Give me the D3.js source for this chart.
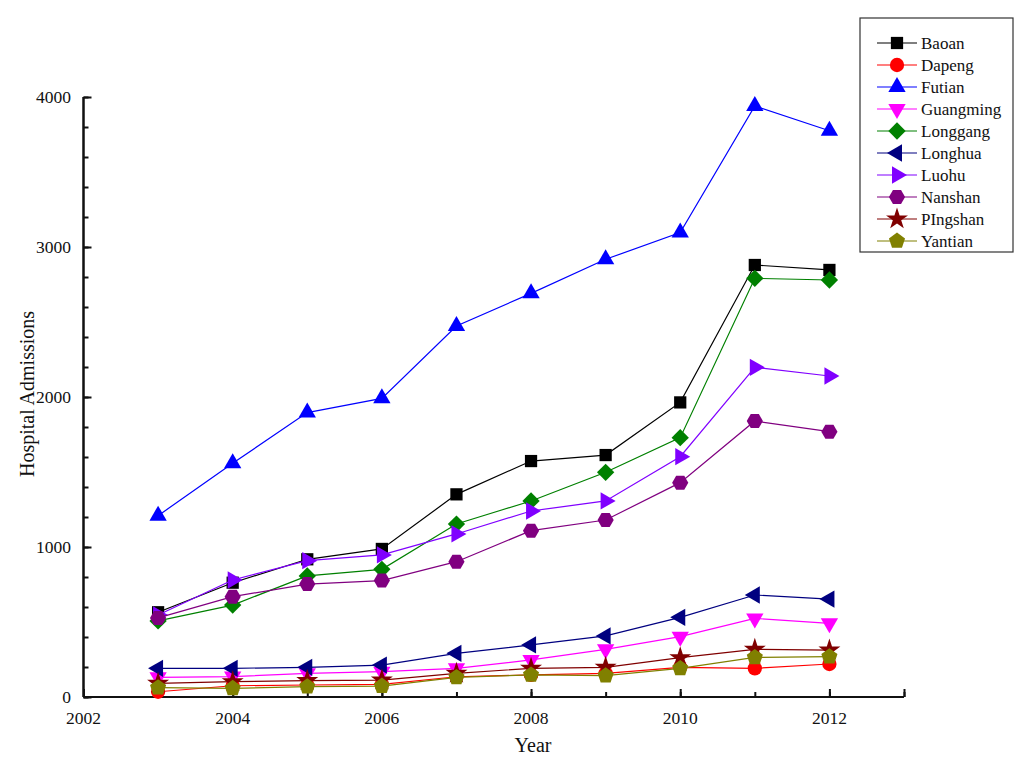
<!DOCTYPE html>
<html>
<head>
<meta charset="utf-8">
<script src="https://cdn.jsdelivr.net/npm/d3@7"></script>
<style>
  body { margin: 0; background: #fff; }
  text { font-family: "Liberation Serif", "DejaVu Serif", serif; fill: #111; }
  .axis path, .axis line { stroke: #111; }
</style>
</head>
<body>
<div id="chart"></div>
<script>
// data
var years = [2003, 2004, 2005, 2006, 2007, 2008, 2009, 2010, 2011, 2012];
var baoan     = [565, 762, 918, 987, 1351, 1573, 1613, 1964, 2880, 2847];
var dapeng    = [35, 75, 80, 84, 135, 147, 158, 198, 191, 220];
var futian    = [1209, 1558, 1896, 1991, 2473, 2691, 2918, 3096, 3940, 3775];
var guangming = [131, 136, 158, 169, 191, 247, 318, 402, 524, 491];
var longgang  = [507, 613, 807, 851, 1153, 1307, 1498, 1729, 2791, 2780];
var longhua   = [191, 191, 198, 213, 291, 347, 407, 531, 680, 653];
var luohu     = [547, 780, 909, 947, 1087, 1240, 1307, 1602, 2198, 2140];
var nanshan   = [527, 669, 753, 776, 902, 1109, 1180, 1429, 1840, 1769];
var pingshan  = [91, 102, 109, 113, 158, 191, 198, 262, 318, 313];
var yantian   = [62, 58, 69, 73, 131, 147, 142, 191, 264, 269];

var names = ["Baoan", "Dapeng", "Futian", "Guangming", "Longgang", "Longhua", "Luohu", "Nanshan", "PIngshan", "Yantian"];
var colors = ["#000000", "#ff0000", "#0000ff", "#ff00ff", "#008000", "#000080", "#8000ff", "#800080", "#800000", "#808000"];
var yTicks = [0, 1000, 2000, 3000, 4000];
var xTicks = [2002, 2004, 2006, 2008, 2010, 2012];

var allValues = [baoan, dapeng, futian, guangming, longgang, longhua, luohu, nanshan, pingshan, yantian];

// polygon symbol helper (regular polygon, pointing up)
function polygon(n, rot) {
    return {
        draw: function(ctx, size) {
            var r = Math.sqrt(size / (0.5 * n * Math.sin(2 * Math.PI / n)));
            for (var i = 0; i < n; i++) {
                var a = rot + i * 2 * Math.PI / n;
                var px = r * Math.sin(a), py = -r * Math.cos(a);
                if (i == 0) ctx.moveTo(px, py); else ctx.lineTo(px, py);
            }
            ctx.closePath();
        }
    };
}

var shapes = [
    { type: d3.symbolSquare, size: 150, rot: 0 },
    { type: d3.symbolCircle, size: 160, rot: 0 },
    { type: polygon(3, 0), size: 130, rot: 0 },
    { type: polygon(3, 0), size: 130, rot: 180 },
    { type: polygon(4, 0), size: 150, rot: 0 },
    { type: polygon(3, 0), size: 130, rot: -90 },
    { type: polygon(3, 0), size: 130, rot: 90 },
    { type: polygon(6, Math.PI / 6), size: 170, rot: 0 },
    { type: d3.symbolStar, size: 150, rot: 0 },
    { type: polygon(5, 0), size: 170, rot: 0 }
];

var series = names.map(function(n, i) {
    return {
        name: n,
        color: colors[i],
        shape: shapes[i],
        values: years.map(function(y, j) { return { year: y, value: allValues[i][j] }; })
    };
});

var svg = d3.select("#chart").append("svg")
    .attr("width", 1024)
    .attr("height", 763);

var x = d3.scaleLinear().domain([2002, 2013]).range([83.5, 904]);
var y = d3.scaleLinear().domain([0, 4000]).range([697, 97]);

// axes (ticks inside)
var yAxisMinor = d3.axisRight(y).tickValues(d3.range(0, 4001, 200)).tickSize(5).tickFormat("");
var yAxis = d3.axisRight(y).tickValues(yTicks).tickSize(8).tickFormat("");
var xAxisMinor = d3.axisTop(x).tickValues(d3.range(2002, 2014, 1)).tickSize(5).tickFormat("");
var xAxis = d3.axisTop(x).tickValues(xTicks.concat([2013])).tickSize(8).tickFormat("");

[yAxisMinor, yAxis].forEach(function(a) {
    svg.append("g").attr("class", "axis")
        .attr("transform", "translate(" + x(2002) + ",0)")
        .call(a)
        .call(function(g) { g.select(".domain").attr("stroke-width", 2).attr("d", "M0," + y(4000) + "V" + y(0)); })
        .selectAll("line").attr("stroke-width", 2);
});
[xAxisMinor, xAxis].forEach(function(a) {
    svg.append("g").attr("class", "axis")
        .attr("transform", "translate(0," + y(0) + ")")
        .call(a)
        .call(function(g) { g.select(".domain").attr("stroke-width", 2).attr("d", "M" + x(2002) + ",0H" + x(2013)); })
        .selectAll("line").attr("stroke-width", 2);
});

// tick labels
svg.selectAll(".ylab").data(yTicks).enter().append("text")
    .attr("class", "ylab")
    .attr("x", 71).attr("y", function(d) { return y(d); })
    .attr("dy", "0.35em")
    .attr("text-anchor", "end")
    .style("font-size", "17.5px")
    .text(function(d) { return d; });

svg.selectAll(".xlab").data(xTicks).enter().append("text")
    .attr("class", "xlab")
    .attr("x", function(d) { return x(d); }).attr("y", 724)
    .attr("text-anchor", "middle")
    .style("font-size", "17.5px")
    .text(function(d) { return d; });

// axis titles
svg.append("text")
    .attr("x", 533).attr("y", 752)
    .attr("text-anchor", "middle")
    .style("font-size", "20px")
    .text("Year");

svg.append("text")
    .attr("transform", "translate(34,394) rotate(-90)")
    .attr("text-anchor", "middle")
    .style("font-size", "20px")
    .text("Hospital Admissions");

var line = d3.line()
    .x(function(d) { return x(d.year); })
    .y(function(d) { return y(d.value); });

var groups = svg.selectAll(".series").data(series).enter().append("g").attr("class", "series");

groups.append("path")
    .attr("d", function(d) { return line(d.values); })
    .attr("fill", "none")
    .attr("stroke", function(d) { return d.color; })
    .attr("stroke-width", 1.2);

groups.each(function(s) {
    var sym = d3.symbol().type(s.shape.type).size(s.shape.size);
    d3.select(this).selectAll(".pt").data(s.values).enter().append("path")
        .attr("class", "pt")
        .attr("d", sym)
        .attr("fill", s.color)
        .attr("transform", function(d) {
            return "translate(" + x(d.year) + "," + y(d.value) + ") rotate(" + s.shape.rot + ")";
        });
});

// legend
var legend = svg.append("g").attr("transform", "translate(860,18)");
legend.append("rect")
    .attr("width", 153).attr("height", 234)
    .attr("fill", "#fff").attr("stroke", "#333").attr("stroke-width", 1.2);

var items = legend.selectAll(".item").data(series).enter().append("g")
    .attr("class", "item")
    .attr("transform", function(d, i) { return "translate(0," + (25 + i * 22) + ")"; });

items.append("line")
    .attr("x1", 17).attr("x2", 57)
    .attr("stroke", function(d) { return d.color; })
    .attr("stroke-width", 1.2);

items.append("path")
    .attr("d", function(d) { return d3.symbol().type(d.shape.type).size(d.shape.size)(); })
    .attr("fill", function(d) { return d.color; })
    .attr("transform", function(d) { return "translate(37,0) rotate(" + d.shape.rot + ")"; });

items.append("text")
    .attr("x", 61).attr("dy", "0.35em")
    .style("font-size", "17px")
    .text(function(d) { return d.name; });
</script>
</body>
</html>
